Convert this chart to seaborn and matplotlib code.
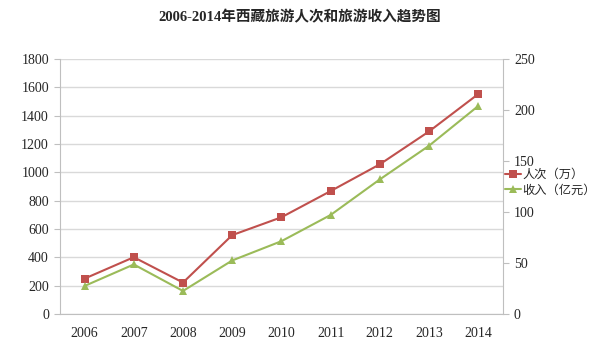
import pandas as pd
import matplotlib
matplotlib.use('Agg')
import matplotlib.pyplot as plt
import seaborn as sns

years = ['2006', '2007', '2008', '2009', '2010', '2011', '2012', '2013', '2014']
visitors = [250, 401, 222, 557, 683, 868, 1057, 1289, 1553]   # 人次（万）
revenue = [27.5, 48.6, 22.6, 52.5, 71.4, 97.1, 132, 165, 204]  # 收入（亿元）

df = pd.DataFrame({'year': years, 'visitors': visitors, 'revenue': revenue})

sns.set_style('white')
plt.rcParams['font.family'] = ['Liberation Serif', 'Noto Sans CJK SC']

red = '#C0504D'
green = '#9BBB59'
grid = '#D9D9D9'
axc = '#BFBFBF'

fig = plt.figure(figsize=(6, 3.48), dpi=100)
ax = fig.add_axes([0.1, 0.0977, 0.738, 0.7325])
ax2 = ax.twinx()

sns.lineplot(data=df, x='year', y='visitors', ax=ax, color=red, marker='s',
             markersize=5.5, markeredgewidth=0, linewidth=1.5, sort=False,
             label='人次（万）', legend=False)
sns.lineplot(data=df, x='year', y='revenue', ax=ax2, color=green, marker='^',
             markersize=6, markeredgewidth=0, linewidth=1.5, sort=False,
             label='收入（亿元）', legend=False)

ax.set_ylim(0, 1800)
ax.set_yticks(range(0, 1801, 200))
ax2.set_ylim(0, 250)
ax2.set_yticks(range(0, 251, 50))
ax.set_xlim(-0.5, len(years) - 0.5)

ax.yaxis.grid(True, color=grid, linewidth=1)
ax.set_axisbelow(True)
ax.set_xlabel('')
ax.set_ylabel('')
ax2.set_ylabel('')

for a in (ax, ax2):
    for s in a.spines.values():
        s.set_visible(False)
ax.spines['left'].set_visible(True)
ax.spines['left'].set_color(axc)
ax.spines['bottom'].set_visible(True)
ax.spines['bottom'].set_color(axc)
ax2.spines['right'].set_visible(True)
ax2.spines['right'].set_color(axc)

ax.tick_params(axis='y', left=True, length=4, color=axc, labelsize=10, pad=4)
ax.tick_params(axis='x', bottom=False, labelsize=10, pad=6)
ax2.tick_params(axis='y', right=True, length=4, color=axc, labelsize=10, pad=4)

h1, l1 = ax.get_legend_handles_labels()
h2, l2 = ax2.get_legend_handles_labels()
fig.legend(h1 + h2, l1 + l2, loc='center left', bbox_to_anchor=(0.842, 0.475),
           frameon=False, fontsize=8.8, handlelength=1.3, handletextpad=0.1,
           labelspacing=0.3, borderaxespad=0, borderpad=0)

fig.suptitle('2006-2014年西藏旅游人次和旅游收入趋势图', x=0.5, y=0.97,
             fontsize=10.5, fontweight='bold')

fig.savefig('out.png', dpi=100)
